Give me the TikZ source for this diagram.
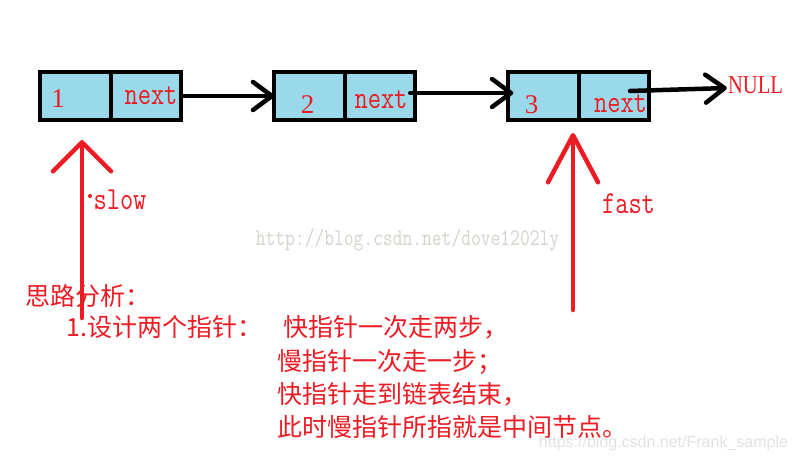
\documentclass[tikz,border=0pt]{standalone}
\usepackage{fontspec}
\usepackage{graphicx}
\newfontfamily\cjk{Noto Sans CJK SC}
\newfontfamily\seriffnt{Liberation Serif}
\newfontfamily\sansfnt{Liberation Sans}
\newcommand{\tallish}[1]{\scalebox{1}[1.25]{#1}}
\usetikzlibrary{arrows.meta,positioning,calc}
\definecolor{pred}{RGB}{237,28,36}
\definecolor{cellblue}{RGB}{153,217,234}
\definecolor{wmgray}{RGB}{212,212,204}
\definecolor{wmlight}{RGB}{226,226,226}

\begin{document}
\begin{tikzpicture}
[x=1pt,y=-1pt,
cell/.style={draw=black,fill=cellblue,line width=4pt,minimum width=70.5pt,minimum height=48pt,outer sep=0pt,inner sep=0pt},
val/.style={text=pred,inner sep=0pt,font=\seriffnt\fontsize{27}{27}\selectfont},
word/.style={text=pred,inner sep=0pt,font=\ttfamily\fontsize{25.7}{30}\selectfont},
link/.style={line width=4.5pt,line cap=round,-{Straight Barb[length=19pt,width=28pt,round]}},
ptr/.style={pred,line width=4.5pt,line cap=round},
note/.style={text=pred,inner sep=0pt,font=\cjk\fontsize{25}{33}\selectfont}]
\path[fill=white] (0,0) rectangle (796,461);
\useasboundingbox (0,0) rectangle (796,461);
% the list
\node[cell] (v1) at (75.5,96) {};
\node[cell,right=0pt of v1] (n1) {};
\node[cell,right=93pt of n1] (v2) {};
\node[cell,right=0pt of v2] (n2) {};
\node[cell,right=93pt of n2] (v3) {};
\node[cell,right=0pt of v3] (n3) {};
\node[val] (d1) at ([xshift=-17.5pt,yshift=-2.5pt]v1.center) {1};
\node[val] (d2) at ([xshift=-2pt,yshift=-9pt]v2.center) {2};
\node[val] (d3) at ([xshift=-12pt,yshift=-9pt]v3.center) {3};
\node[word] (x1) at ([xshift=5pt]n1.center) {\tallish{next}};
\node[word] (x2) at ([xshift=1pt,yshift=-3.5pt]n2.center) {\tallish{next}};
\node[word] (x3) at ([xshift=6.5pt,yshift=-7.5pt]n3.center) {\tallish{next}};
\node[val,font=\seriffnt\fontsize{20.6}{25}\selectfont] (null) at (755.5,85) {\tallish{NULL}};
\draw[link] (n1.east) -- (v2.west);
\draw[link] ([xshift=-5pt,yshift=3pt]n2.east) -- ([xshift=5pt,yshift=3pt]v3.west);
\draw[link] ([xshift=16pt,yshift=5pt]n3.center) -- ([xshift=-1pt,yshift=-3pt]null.west);
% slow and fast pointers
\coordinate (slowtail) at (82,318);
\coordinate (fasttail) at (573,310);
\draw[ptr,-{Straight Barb[length=29pt,width=58pt,round]}] (slowtail) -- ($(slowtail |- v1.south)+(0,20)$);
\draw[ptr,-{Straight Barb[length=47pt,width=50pt,round]}] (fasttail) -- ($(fasttail |- v3.south)+(0,13)$);
\fill[pred] (90,196) circle (2pt);
\node[word] (slow) at (120,200) {\tallish{slow}};
\node[word] (fast) at (628.5,203.5) {\tallish{fast}};
% watermarks
\node[text=wmgray,inner sep=0pt,font=\ttfamily\fontsize{19}{22}\selectfont] (wm1) at (407.5,240) {\tallish{http://blog.csdn.net/dove1202ly}};
\node[text=wmlight,inner sep=0pt,font=\sansfnt\fontsize{16}{20}\selectfont] (wm2) at (663.5,443) {https://blog.csdn.net/Frank\_sample};
% the idea
\node[note,anchor=west] (title) at (25,296) {思路分析：};
\node[note,anchor=west] (step1) at (66,327) {\makebox[217pt][l]{1.设计两个指针：}快指针一次走两步，};
\node[note,anchor=west,align=left] (rest) at (277,394) {慢指针一次走一步；\\快指针走到链表结束，\\此时慢指针所指就是中间节点。};
\end{tikzpicture}
\end{document}
